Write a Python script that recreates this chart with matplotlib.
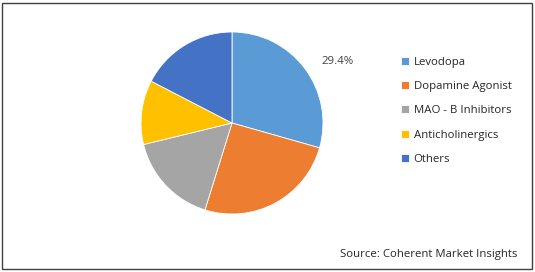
import matplotlib.pyplot as plt
from matplotlib.patches import Rectangle

categories = ['Levodopa', 'Dopamine Agonist', 'MAO - B Inhibitors',
              'Anticholinergics', 'Others']
shares = [29.4, 25.4, 16.4, 11.4, 17.4]
colours = ['#5B9BD5', '#ED7D31', '#A5A5A5', '#FFC000', '#4472C4']
source = 'Source: Coherent Market Insights'

plt.rcParams['font.family'] = ['Open Sans', 'DejaVu Sans']

W, H = 535, 272
fig = plt.figure(figsize=(W / 100, H / 100), dpi=100)

# outer frame
fig.patches.append(Rectangle((2 / W, 3 / H), 530 / W, 266 / H, transform=fig.transFigure,
                             fill=False, edgecolor='#404040', linewidth=1.0))

cx, cy, r = 232, 123, 91
ax = fig.add_axes([(cx - r) / W, (H - cy - r) / H, 2 * r / W, 2 * r / H])
wedges, _ = ax.pie(shares, colors=colours, startangle=90, counterclock=False,
                   wedgeprops=dict(edgecolor='white', linewidth=0.6))
ax.set_xlim(-1, 1)
ax.set_ylim(-1, 1)
ax.set_aspect('equal')
ax.axis('off')

# only the largest slice carries a label
ax.text(1.155, 0.68, f'{shares[0]}%', ha='center', va='center',
        fontsize=8.2, color='#404040')

leg = fig.legend(wedges, categories, loc='upper left',
                 bbox_to_anchor=(396 / W, (H - 52) / H), frameon=False,
                 fontsize=8.2, handlelength=0.7, handleheight=0.7,
                 handletextpad=0.45, labelspacing=1.17, borderaxespad=0)
for t in leg.get_texts():
    t.set_color('#262626')

fig.text(517 / W, (H - 254) / H, source, ha='right', va='center',
         fontsize=8.2, color='#262626')

fig.savefig('out.png', dpi=100)
